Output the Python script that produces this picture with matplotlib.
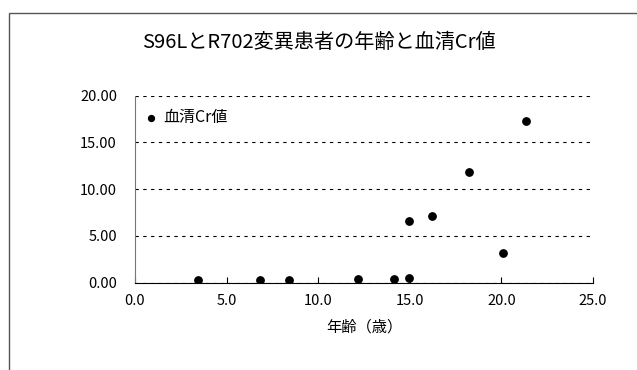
import numpy as np
import matplotlib

matplotlib.use("Agg")
import matplotlib.pyplot as plt
from matplotlib.patches import Rectangle

plt.rcParams['font.family'] = ['Noto Sans CJK JP', 'DejaVu Sans']

# データ (年齢, 血清Cr値)
ages = [3.45, 6.85, 8.42, 12.15, 14.15, 14.96, 14.96, 16.19, 18.21, 20.07, 21.33]
cr_values = [0.29, 0.29, 0.29, 0.43, 0.43, 0.53, 6.63, 7.17, 11.87, 3.21, 17.33]

title = "S96LとR702変異患者の年齢と血清Cr値"
series_name = "血清Cr値"
x_label = "年齢（歳）"

fig = plt.figure(figsize=(6.37, 3.70), dpi=100)
fig.patch.set_facecolor("white")

# 外枠
frame = Rectangle((9 / 637, -0.05), 1.0, 1 - 13 / 370 + 0.05, transform=fig.transFigure,
                  fill=False, edgecolor="#555555", linewidth=1.0)
fig.patches.append(frame)

ax = fig.add_axes([135 / 637, 1 - 282.7 / 370, (593 - 135) / 637, (282.7 - 95.7) / 370])

ax.scatter(ages, cr_values, s=28, color="black", zorder=3, label=series_name)

ax.set_xlim(0, 25)
ax.set_ylim(0, 20)
ax.set_xticks(np.arange(0, 25.1, 5))
ax.set_xticklabels([f"{v:.1f}" for v in np.arange(0, 25.1, 5)])
ax.set_yticks(np.arange(0, 20.1, 5))
ax.set_yticklabels([f"{v:.2f}" for v in np.arange(0, 20.1, 5)])

ax.yaxis.grid(True, linestyle=(0, (3, 4)), color="black", linewidth=0.8)
ax.set_axisbelow(True)

for s in ["top", "right"]:
    ax.spines[s].set_visible(False)
ax.spines["left"].set_color("#777777")
ax.spines["bottom"].set_color("black")

ax.tick_params(axis="x", direction="in", length=4, labelsize=10.5, pad=8)
ax.tick_params(axis="y", length=0, labelsize=10.5, pad=13)

ax.set_xlabel(x_label, fontsize=11, labelpad=8)

fig.text(0.5, 1 - 43 / 370, title, ha="center", va="center", fontsize=14.5)

ax.legend(loc="upper left", frameon=False, fontsize=11.5, handletextpad=-0.2,
          markerscale=0.8, borderaxespad=0.0, borderpad=0.0,
          bbox_to_anchor=(0.0, 0.93))

fig.savefig("out.png", dpi=100)
